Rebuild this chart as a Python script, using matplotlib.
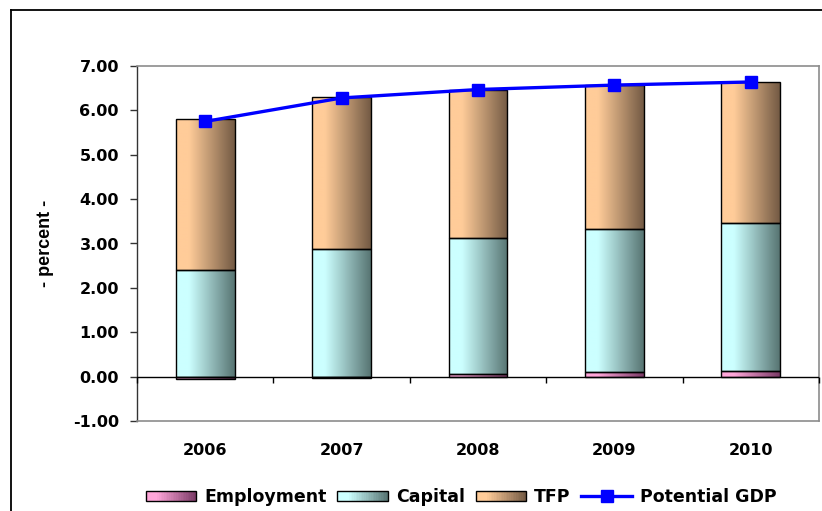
import numpy as np
import matplotlib
matplotlib.use("Agg")
import matplotlib.pyplot as plt
from matplotlib.colors import LinearSegmentedColormap
from matplotlib.patches import Rectangle
from matplotlib.lines import Line2D
from matplotlib.legend_handler import HandlerBase

# ---- data -------------------------------------------------------------
years = ["2006", "2007", "2008", "2009", "2010"]
employment = [-0.06, -0.04, 0.06, 0.10, 0.13]
capital = [2.40, 2.87, 3.07, 3.23, 3.33]
tfp = [3.40, 3.43, 3.33, 3.24, 3.17]
potential_gdp = [5.75, 6.28, 6.47, 6.57, 6.64]
yticks = [-1.0, 0.0, 1.0, 2.0, 3.0, 4.0, 5.0, 6.0, 7.0]

# ---- styles -------------------------------------------------------------
plt.rcParams["font.family"] = ["DejaVu Sans"]
plt.rcParams["font.weight"] = "bold"
FS = 11.5
LEG_FS = 12.5

fills = {
    "Employment": ("#ffa6d9", "#7a3a66"),
    "Capital": ("#ccffff", "#577472"),
    "TFP": ("#ffcc99", "#735a44"),
}


def make_cmap(light, dark):
    return LinearSegmentedColormap.from_list(
        "g", [(0.0, light), (0.22, light), (1.0, dark)])


fig = plt.figure(figsize=(8.22, 5.11), dpi=100)
W, H = 822, 511
ax = fig.add_axes([137 / W, 1 - 421 / H, (819 - 137) / W, (421 - 66) / H])

x = np.arange(len(years))
emp = np.array(employment)
cap = np.array(capital)
tf = np.array(tfp)
cap_bottom = np.maximum(emp, 0)
tfp_bottom = cap_bottom + cap

bar_w = 0.43
grad = np.linspace(0, 1, 256).reshape(1, -1)


def gradient_bars(values, bottoms, name):
    light, dark = fills[name]
    cmap = make_cmap(light, dark)
    bars = ax.bar(x, values, bar_w, bottom=bottoms, facecolor="none",
                  edgecolor="black", linewidth=1.0, zorder=3)
    for p in bars:
        x0, y0 = p.get_x(), p.get_y()
        w, h = p.get_width(), p.get_height()
        im = ax.imshow(grad, cmap=cmap, aspect="auto", interpolation="bilinear",
                       extent=[x0, x0 + w, min(y0, y0 + h), max(y0, y0 + h)],
                       zorder=2)
        im.set_clip_path(p)
    return bars


gradient_bars(emp, np.zeros_like(emp), "Employment")
gradient_bars(cap, cap_bottom, "Capital")
gradient_bars(tf, tfp_bottom, "TFP")

ax.plot(x, potential_gdp, color="#0000ff", linewidth=2.4, marker="s",
        markersize=9, markeredgecolor="#0000ff", zorder=5)

ax.set_xlim(-0.5, len(years) - 0.5)
ax.set_ylim(-1.0, 7.0)

# zero line with category-separator ticks
ax.axhline(0, color="black", linewidth=1.0, zorder=4)
ax.vlines(np.arange(len(years) + 1) - 0.5, -0.15, 0, color="black",
          linewidth=1.0, zorder=4, clip_on=False)

ax.set_yticks(yticks)
ax.set_yticklabels([f"{v:.2f}" for v in yticks], fontsize=FS, fontweight="bold")
ax.set_xticks(x)
ax.set_xticklabels(years, fontsize=FS, fontweight="bold")
ax.tick_params(axis="x", length=0, pad=16)
ax.tick_params(axis="y", length=5, width=1.0, pad=8, color="#333333")

for side in ("top", "right", "bottom"):
    ax.spines[side].set_color("#8c8c8c")
    ax.spines[side].set_linewidth(1.2)
ax.spines["left"].set_color("#333333")
ax.spines["left"].set_linewidth(1.0)

ax.set_ylabel("- percent -", fontsize=13, fontweight="bold",
              family="Liberation Sans")
ax.yaxis.set_label_coords(-0.121, 0.5)


# ---- legend with gradient swatches ------------------------------------
class GradientPatch:
    def __init__(self, name):
        self.name = name


class GradientHandler(HandlerBase):
    def create_artists(self, legend, orig_handle, xdescent, ydescent,
                       width, height, fontsize, trans):
        light, dark = fills[orig_handle.name]
        cmap = make_cmap(light, dark)
        n = 30
        arts = []
        for i in range(n):
            c = cmap((i + 0.5) / n)
            r = Rectangle((-xdescent + width * i / n, -ydescent),
                          width / n + 0.3, height, facecolor=c,
                          edgecolor="none", transform=trans)
            arts.append(r)
        arts.append(Rectangle((-xdescent, -ydescent), width, height,
                              facecolor="none", edgecolor="black",
                              linewidth=1.0, transform=trans))
        return arts


handles = [GradientPatch("Employment"), GradientPatch("Capital"),
           GradientPatch("TFP"),
           Line2D([], [], color="#0000ff", linewidth=2.4, marker="s",
                  markersize=9, markeredgecolor="#0000ff")]
labels = ["Employment", "Capital", "TFP", "Potential GDP"]
fig.legend(handles, labels, loc="center", bbox_to_anchor=(461 / W, 1 - 497 / H),
           ncol=4, frameon=False, handlelength=2.9,
           handleheight=0.55, handletextpad=0.46, columnspacing=0.63,
           handler_map={GradientPatch: GradientHandler()},
           prop={"weight": "bold", "size": LEG_FS})

# outer chart frame
fig.add_artist(Line2D([11 / W, 11 / W], [0, 1 - 10 / H], color="black",
                      linewidth=1.3, transform=fig.transFigure))
fig.add_artist(Line2D([11 / W, 1], [1 - 10 / H, 1 - 10 / H], color="black",
                      linewidth=1.3, transform=fig.transFigure))

fig.savefig("out.png", dpi=100)
